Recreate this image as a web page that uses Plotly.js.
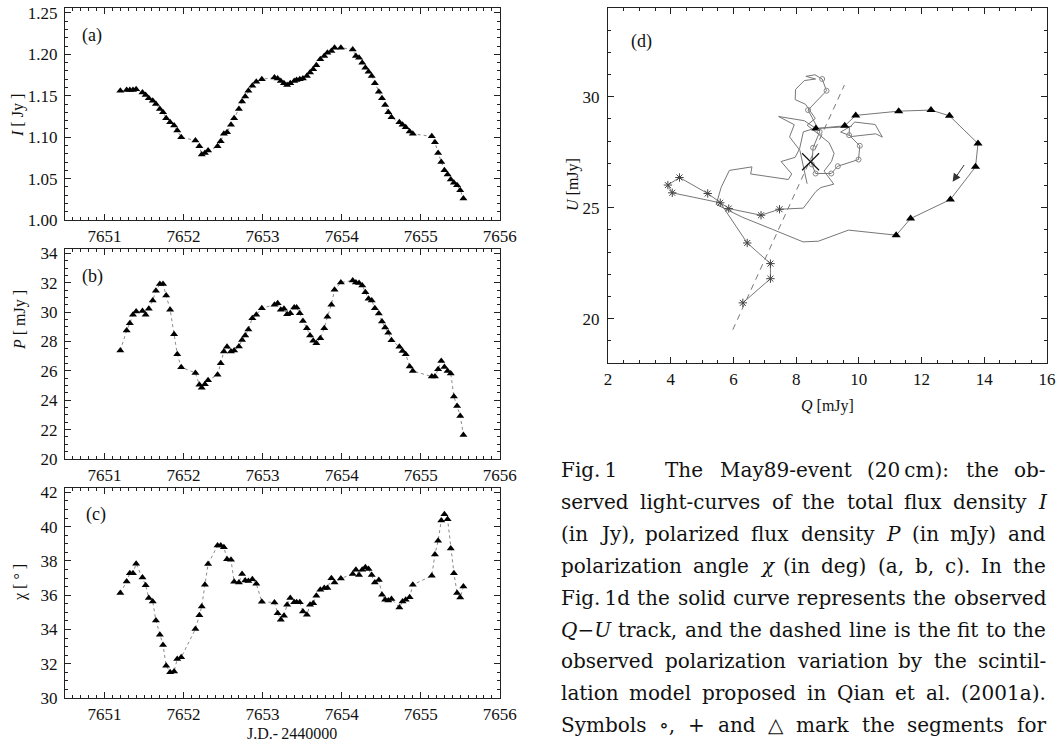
<!DOCTYPE html>
<html>
<head>
<meta charset="utf-8">
<script src="https://cdn.plot.ly/plotly-3.0.1.min.js"></script>
<style>
html,body{margin:0;padding:0;background:#fff;}
#chart{width:1060px;height:745px;}
</style>
</head>
<body>
<div id="chart"></div>
<script>
// ---------------- DATA ----------------
const jd = [
 7651.20,7651.28,7651.32,7651.36,7651.40,7651.48,7651.52,7651.56,7651.61,7651.65,7651.70,7651.74,7651.78,7651.83,7651.88,7651.92,7651.97,
 7652.15,7652.20,7652.23,7652.27,7652.31,
 7652.43,7652.47,7652.51,7652.55,7652.60,7652.64,7652.70,7652.74,7652.78,7652.82,7652.87,7652.92,7652.99,
 7653.15,7653.19,7653.23,7653.27,7653.31,7653.35,7653.40,7653.43,7653.47,7653.51,7653.56,7653.60,7653.64,7653.68,7653.73,7653.78,7653.82,7653.87,7653.91,7653.99,
 7654.14,7654.18,7654.22,7654.26,7654.30,7654.34,7654.38,7654.42,7654.47,7654.51,7654.55,7654.59,7654.63,7654.73,7654.77,7654.81,7654.86,7654.90,
 7655.14,7655.18,7655.22,7655.26,7655.30,7655.34,7655.38,7655.42,7655.46,7655.50,7655.54
];
const fluxI = [
 1.156,1.157,1.157,1.157,1.158,1.154,1.151,1.147,1.144,1.140,1.134,1.130,1.123,1.118,1.114,1.108,1.100,
 1.096,1.089,1.079,1.081,1.084,
 1.089,1.095,1.104,1.106,1.115,1.123,1.134,1.143,1.149,1.156,1.162,1.167,1.170,
 1.172,1.171,1.168,1.165,1.163,1.165,1.168,1.169,1.170,1.171,1.174,1.178,1.182,1.187,1.194,1.198,1.202,1.204,1.208,1.208,
 1.206,1.198,1.196,1.190,1.184,1.179,1.174,1.165,1.155,1.147,1.139,1.130,1.124,1.118,1.115,1.112,1.107,1.104,
 1.101,1.094,1.081,1.070,1.060,1.055,1.049,1.045,1.042,1.036,1.026
];
const polP = [
 27.39,28.75,29.25,29.82,30.05,30.07,29.82,30.23,30.80,31.45,31.91,31.91,31.14,30.16,28.50,27.14,26.25,
 25.86,25.05,24.86,25.09,25.36,
 25.73,26.52,27.32,27.64,27.32,27.39,27.66,28.11,28.41,28.82,29.59,29.82,30.27,
 30.50,30.61,30.16,30.23,29.86,29.93,30.32,30.32,29.93,29.40,28.91,28.41,28.05,27.89,28.23,28.91,29.68,30.50,31.52,32.02,
 32.16,32.02,31.98,31.82,31.36,30.91,30.80,30.27,29.91,29.36,28.95,28.59,28.09,27.64,27.36,27.14,26.30,26.00,
 25.61,25.61,26.11,26.68,26.27,26.00,25.82,24.25,23.61,22.93,21.64
];
const chiDeg = [
 36.12,36.80,37.28,37.28,37.83,37.03,36.58,35.83,35.63,34.52,33.69,33.09,31.88,31.50,31.55,32.27,32.37,
 34.02,34.83,35.34,36.60,37.81,
 38.89,38.89,38.80,38.10,38.06,36.78,36.74,37.24,36.85,36.83,36.93,36.66,35.61,
 35.57,34.95,34.56,34.80,35.44,35.83,35.59,35.59,35.59,35.05,34.85,35.44,35.53,35.96,36.31,36.41,36.41,36.99,36.74,36.97,
 37.24,37.48,37.18,37.48,37.63,37.53,37.18,36.74,36.89,36.02,35.73,35.69,35.77,35.28,35.63,35.73,35.88,36.60,
 37.13,38.37,39.18,40.35,40.72,40.43,38.72,37.28,36.12,35.86,36.50
];
// Q-U track, same time order
const trackQ = [
 8.35,8.12,7.79,7.94,7.44,8.26,
 8.63,9.55,9.90,11.27,12.30,12.89,13.80,13.72,12.92,11.65,11.19,
 9.67,8.71,8.22,7.25,6.30,5.45,5.61,5.87,6.59,6.55,7.75,7.86,7.52,7.97,8.11,8.23,8.56,9.74,
 9.86,10.52,10.75,10.54,9.78,9.42,9.78,9.70,9.69,
 10.03,9.99,9.33,9.12,8.62,8.50,8.54,8.75,8.38,8.97,8.83,
 8.60,8.31,8.62,8.26,7.98,7.97,8.30,8.61,8.35,9.05,9.21,9.13,8.89,9.20,8.79,8.63,8.23,
 7.47,
 6.88,5.85,5.18,4.28,3.91,4.05,5.58,6.44,7.18,7.18,6.30
];
const trackU = [
 26.08,27.58,28.19,28.74,29.11,28.92,
 28.57,28.69,29.16,29.35,29.40,29.14,27.89,26.84,25.37,24.51,23.76,
 23.99,23.49,23.46,24.02,24.56,25.15,25.92,26.68,26.84,26.52,26.27,26.52,27.08,27.27,27.66,28.42,28.56,28.66,
 28.86,28.75,28.18,28.33,28.21,28.41,28.70,28.62,28.27,
 27.79,27.17,26.87,26.54,26.54,26.95,27.70,28.42,29.40,30.27,30.80,
 30.99,30.92,30.80,30.73,30.33,29.87,29.66,29.02,28.72,27.93,27.45,27.09,26.65,26.06,25.91,25.73,24.98,
 24.93,
 24.66,24.96,25.64,26.36,26.02,25.67,25.22,23.41,22.48,21.80,20.71
];
const triSeg = [6, 16];      // indices marked with triangles
const circSeg = [43, 54];    // indices marked with circles
const starSeg = [72, 83];    // indices marked with + (asterisks)
const fitQ = [5.98, 9.54];
const fitU = [19.50, 30.53];
const centerQ = [8.46];
const centerU = [27.07];
const arrowQ = [13.39, 12.99];
const arrowU = [26.99, 26.17];

const tsTicks = [7651, 7652, 7653, 7654, 7655, 7656];
const iTicks = [1.00, 1.05, 1.10, 1.15, 1.20, 1.25];
const pTicks = [20, 22, 24, 26, 28, 30, 32, 34];
const chiTicks = [30, 32, 34, 36, 38, 40, 42];
const qTicks = [2, 4, 6, 8, 10, 12, 14, 16];
const uTicks = [20, 25, 30];

const captionLines = [
  {t: ['Fig.\u20091', 'The', 'May89-event', '(20\u2009cm):', 'the', 'ob-'], first: 3},
  {t: ['served', 'light-curves', 'of', 'the', 'total', 'flux', 'density', '<i>I</i>']},
  {t: ['(in', 'Jy),', 'polarized', 'flux', 'density', '<i>P</i>', '(in', 'mJy)', 'and']},
  {t: ['polarization', 'angle', '<i>χ</i>', '(in', 'deg)', '(a,', 'b,', 'c).', 'In', 'the']},
  {t: ['Fig.\u20091d', 'the', 'solid', 'curve', 'represents', 'the', 'observed']},
  {t: ['<i>Q</i>\u2212<i>U</i>', 'track,', 'and', 'the', 'dashed', 'line', 'is', 'the', 'fit', 'to', 'the']},
  {t: ['observed', 'polarization', 'variation', 'by', 'the', 'scintil-']},
  {t: ['lation', 'model', 'proposed', 'in', 'Qian', 'et', 'al.', '(2001a).']},
  {t: ['Symbols', '\u2218,', '+', 'and', '\u25B3', 'mark', 'the', 'segments', 'for']}
];

// ---------------- LAYOUT HELPERS ----------------
const W = 1060, H = 745;
const FONT = '"Liberation Serif", "Times New Roman", Times, serif';
const CAP_FONT = '"DejaVu Serif", "Liberation Serif", serif';
const px = v => v / W;
const py = v => 1 - v / H;
const slice = (a, s) => a.slice(s[0], s[1] + 1);

function axisBase(extra) {
  return Object.assign({
    showline: true, linecolor: '#222', linewidth: 1, mirror: 'allticks',
    ticks: 'inside', ticklen: 6, tickwidth: 1, tickcolor: '#222',
    showgrid: false, zeroline: false, fixedrange: true, automargin: false,
    tickfont: {family: FONT, size: 17, color: '#111'}
  }, extra);
}
function minor(d, len) {
  return {ticks: 'inside', ticklen: len || 3, dtick: d, tickcolor: '#222', tickwidth: 1, showgrid: false};
}

const dotLine = {color: '#8a8a8a', width: 1, dash: 'dot'};
const tri = {symbol: 'triangle-up', size: 7, color: '#000'};

const traces = [
  {x: jd, y: fluxI, xaxis: 'x', yaxis: 'y', mode: 'lines+markers', line: dotLine, marker: tri, hoverinfo: 'skip'},
  {x: jd, y: polP, xaxis: 'x2', yaxis: 'y2', mode: 'lines+markers', line: dotLine, marker: tri, hoverinfo: 'skip'},
  {x: jd, y: chiDeg, xaxis: 'x3', yaxis: 'y3', mode: 'lines+markers', line: dotLine, marker: tri, hoverinfo: 'skip'},
  {x: fitQ, y: fitU, xaxis: 'x4', yaxis: 'y4', mode: 'lines', line: {color: '#777', width: 1, dash: '6px,5px'}, hoverinfo: 'skip'},
  {x: trackQ, y: trackU, xaxis: 'x4', yaxis: 'y4', mode: 'lines', line: {color: '#777', width: 1}, hoverinfo: 'skip'},
  {x: slice(trackQ, triSeg), y: slice(trackU, triSeg), xaxis: 'x4', yaxis: 'y4', mode: 'markers',
   marker: {symbol: 'triangle-up', size: 8, color: '#000'}, hoverinfo: 'skip'},
  {x: slice(trackQ, circSeg), y: slice(trackU, circSeg), xaxis: 'x4', yaxis: 'y4', mode: 'markers',
   marker: {symbol: 'circle-open', size: 5, color: '#888', line: {width: 1, color: '#888'}}, hoverinfo: 'skip'},
  {x: slice(trackQ, starSeg), y: slice(trackU, starSeg), xaxis: 'x4', yaxis: 'y4', mode: 'markers',
   marker: {symbol: 'asterisk-open', size: 7, color: '#444', line: {width: 1, color: '#444'}}, hoverinfo: 'skip'},
  {x: centerQ, y: centerU, xaxis: 'x4', yaxis: 'y4', mode: 'markers',
   marker: {symbol: 'x-thin-open', size: 17, color: '#111', line: {width: 1.2, color: '#111'}}, hoverinfo: 'skip'}
];

const xTime = dom => axisBase({domain: dom, range: [7650.5, 7656.003], tickmode: 'array', tickvals: tsTicks,
  ticktext: tsTicks.map(String), minor: minor(0.1), ticklabelstandoff: 1});
const xDom = [px(65), px(500)];

const layout = {
  width: W, height: H, margin: {l: 0, r: 0, t: 0, b: 0},
  paper_bgcolor: '#fff', plot_bgcolor: '#fff', showlegend: false,
  font: {family: FONT, color: '#111'},
  xaxis: Object.assign(xTime(xDom), {anchor: 'y'}),
  yaxis: axisBase({domain: [py(220), py(8)], anchor: 'x', range: [1.0, 1.256], tickmode: 'array',
    tickvals: iTicks, ticktext: iTicks.map(v => v.toFixed(2)), minor: minor(0.01), ticklabelstandoff: 3}),
  xaxis2: Object.assign(xTime(xDom), {anchor: 'y2'}),
  yaxis2: axisBase({domain: [py(459), py(249)], anchor: 'x2', range: [20, 34.3], tickmode: 'array',
    tickvals: pTicks, ticktext: pTicks.map(String), minor: minor(0.5), ticklabelstandoff: 3}),
  xaxis3: Object.assign(xTime(xDom), {anchor: 'y3'}),
  yaxis3: axisBase({domain: [py(698), py(488)], anchor: 'x3', range: [30, 42.25], tickmode: 'array',
    tickvals: chiTicks, ticktext: chiTicks.map(String), minor: minor(0.5), ticklabelstandoff: 3}),
  xaxis4: axisBase({domain: [px(608), px(1047)], anchor: 'y4', range: [2, 16], tickmode: 'array',
    tickvals: qTicks, ticktext: qTicks.map(String), minor: minor(0.5), ticklabelstandoff: 1}),
  yaxis4: axisBase({domain: [py(363), py(8)], anchor: 'x4', range: [18, 34], tickmode: 'array',
    tickvals: uTicks, ticktext: uTicks.map(String), minor: minor(1), ticklabelstandoff: 4}),
  annotations: []
};

function paperText(text, x, y, size, opts) {
  return Object.assign({xref: 'paper', yref: 'paper', x: px(x), y: py(y), text: text, showarrow: false,
    xanchor: 'center', yanchor: 'middle', font: {family: FONT, size: size, color: '#111'}}, opts || {});
}
const ann = layout.annotations;
ann.push(paperText('(a)', 92, 35, 18));
ann.push(paperText('(b)', 92, 276, 18));
ann.push(paperText('(c)', 96, 514, 18));
ann.push(paperText('(d)', 641, 41, 18));
ann.push(paperText('<i>I</i> [ Jy ]', 18, 116, 16, {textangle: -90}));
ann.push(paperText('<i>P</i> [ mJy ]', 20, 320, 16, {textangle: -90}));
ann.push(paperText('χ [ \u00B0 ]', 20, 583, 16, {textangle: -90}));
ann.push(paperText('J.D.-\u20092440000', 292, 733, 16));
ann.push(paperText('<i>U</i> [mJy]', 573, 185, 16, {textangle: -90}));
ann.push(paperText('<i>Q</i> [mJy]', 827, 406, 16));
ann.push({xref: 'x4', yref: 'y4', axref: 'x4', ayref: 'y4', x: arrowQ[1], y: arrowU[1], ax: arrowQ[0], ay: arrowU[0],
  text: '', showarrow: true, arrowhead: 2, arrowsize: 1.6, arrowwidth: 1, arrowcolor: '#333'});

// ---------------- CAPTION (justified word by word) ----------------
const CAP_SIZE = 20;
const mctx = document.createElement('canvas').getContext('2d');
function measure(tok) {
  let w = 0;
  const parts = tok.split(/(<i>.*?<\/i>)/).filter(s => s.length);
  parts.forEach(p => {
    const it = p.startsWith('<i>');
    const s = p.replace(/<\/?i>/g, '');
    mctx.font = (it ? 'italic ' : '') + CAP_SIZE + 'px ' + CAP_FONT;
    w += mctx.measureText(s).width;
  });
  return w;
}
const capL = 561, capR = 1046, capY0 = 470, capDY = 31.9;
captionLines.forEach((line, k) => {
  const widths = line.t.map(measure);
  const total = widths.reduce((a, b) => a + b, 0);
  const weights = line.t.slice(1).map((_, i) => (i === 0 && line.first) ? line.first : 1);
  const wsum = weights.reduce((a, b) => a + b, 0);
  const gap = (capR - capL - total) / wsum;
  let x = capL;
  line.t.forEach((tok, i) => {
    ann.push({xref: 'paper', yref: 'paper', x: px(x), y: py(capY0 + k * capDY), text: tok, showarrow: false,
      xanchor: 'left', yanchor: 'middle', borderpad: 0, borderwidth: 0,
      font: {family: CAP_FONT, size: CAP_SIZE, color: '#111'}});
    x += widths[i] + (i < weights.length ? gap * weights[i] : 0);
  });
});

Plotly.newPlot('chart', traces, layout, {staticPlot: true, displayModeBar: false});
</script>
</body>
</html>
